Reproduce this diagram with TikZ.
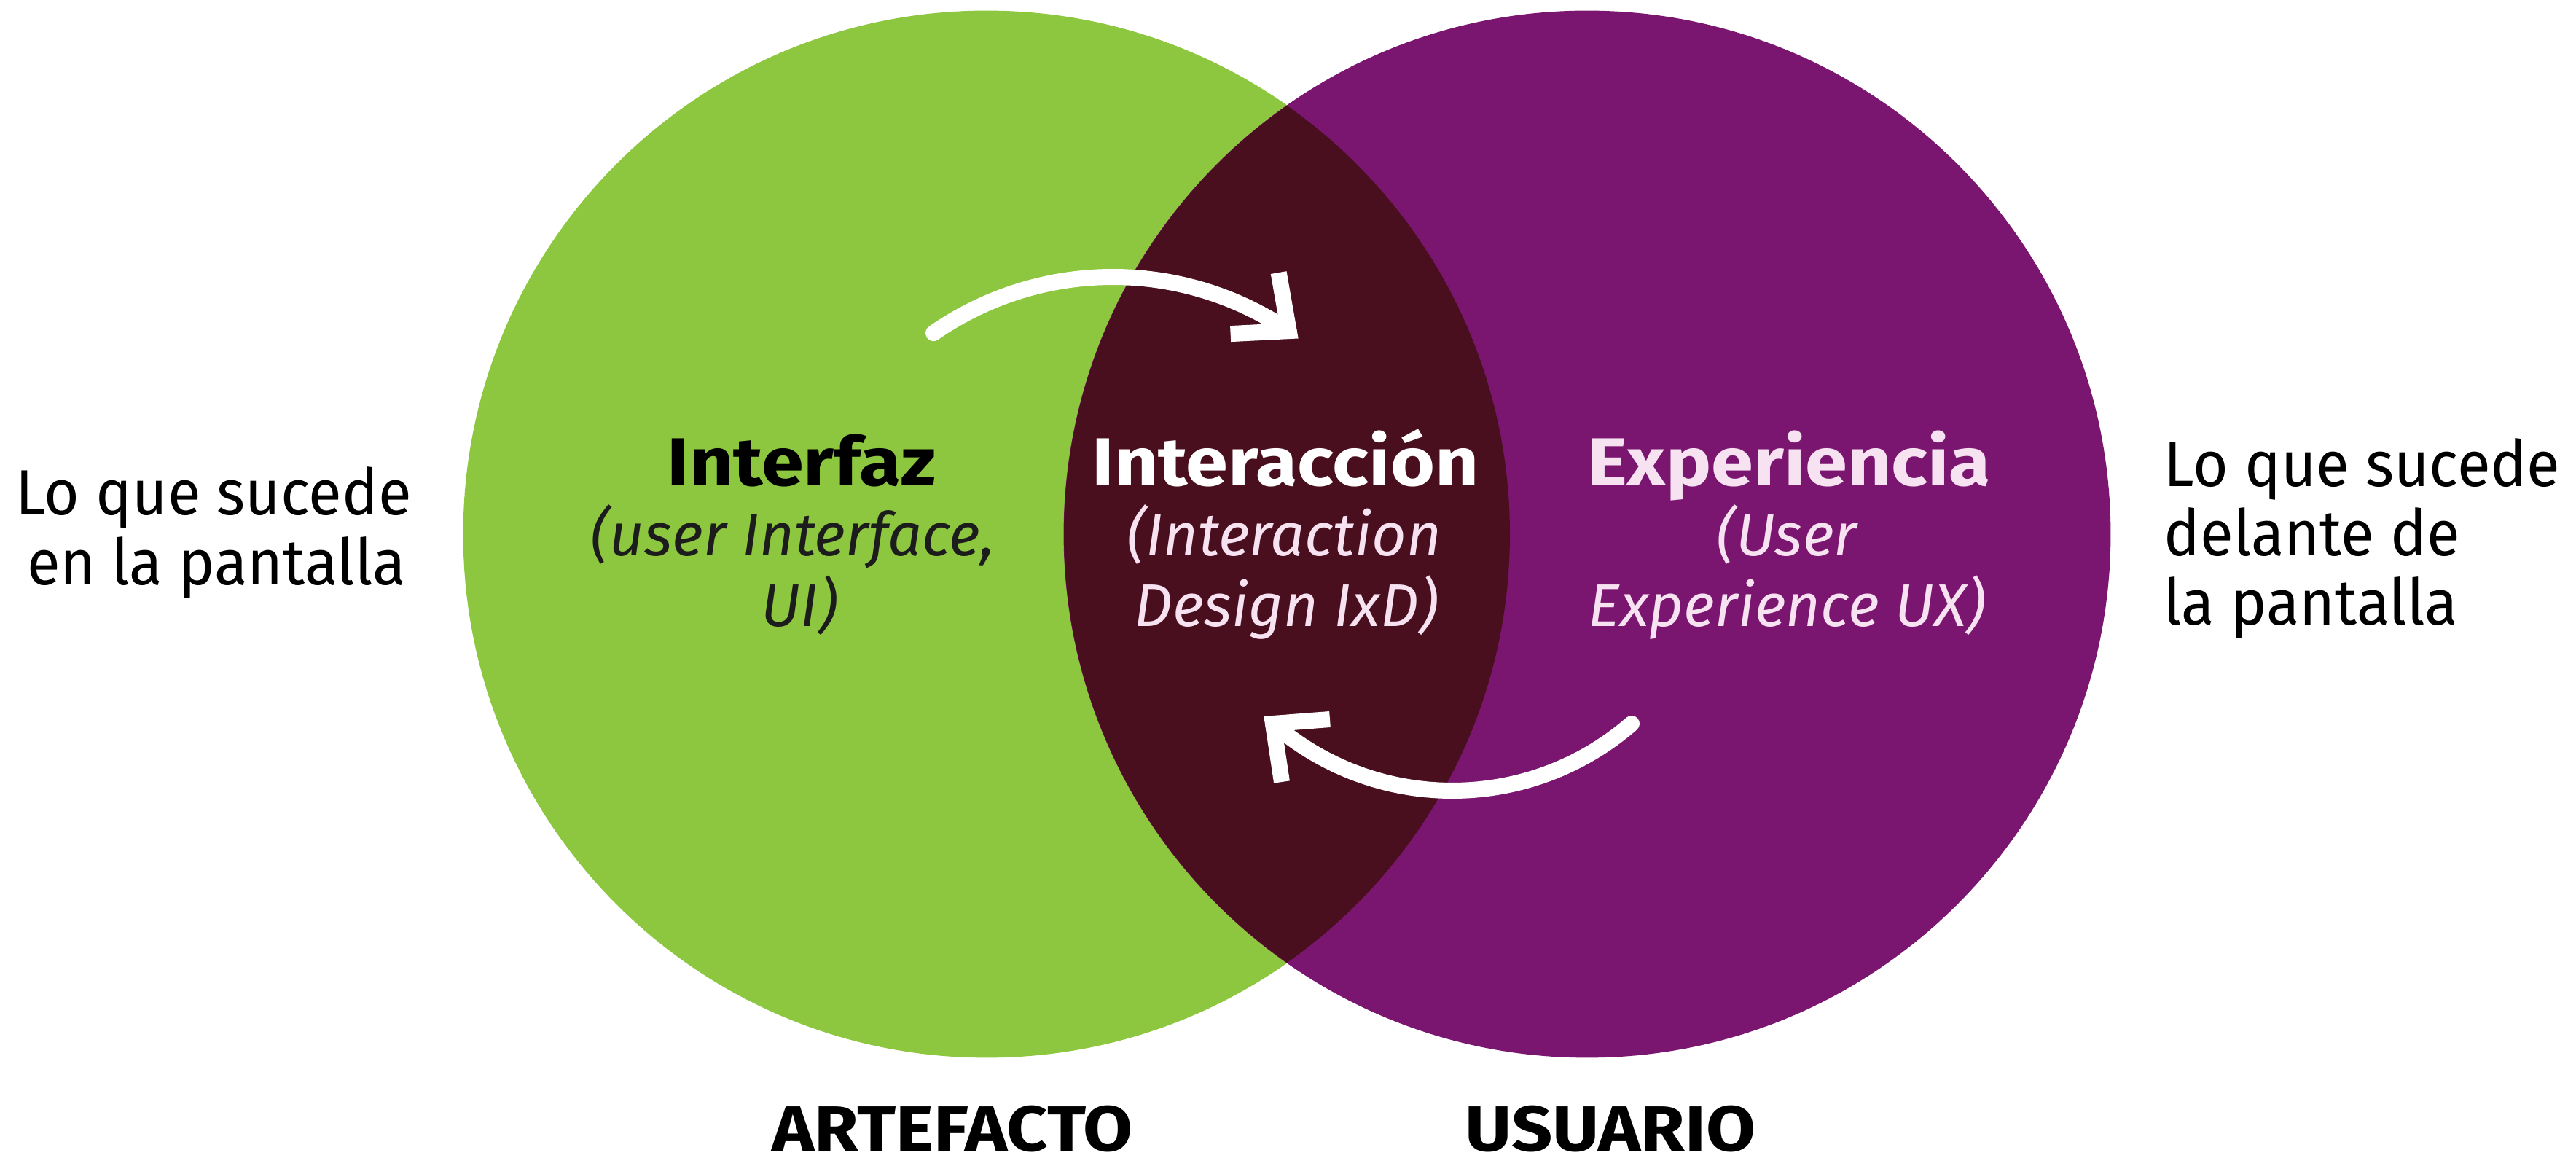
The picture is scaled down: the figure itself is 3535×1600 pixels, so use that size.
\documentclass[tikz,border=0pt]{standalone}
\usepackage{fontspec}
\setmainfont{Fira Sans}
\newfontfamily\wideb{Fira Sans}[FakeStretch=1.12]
\newfontfamily\narrowr{Fira Sans}[FakeStretch=0.95]
\definecolor{uigreen}{HTML}{8DC63F}
\definecolor{uxpurple}{HTML}{7B1670}
\definecolor{ixdark}{HTML}{4A0F1E}
\definecolor{palepink}{HTML}{F6E2F0}
\definecolor{subdark}{HTML}{1C1C1C}
\begin{document}
\begin{tikzpicture}[x=0.01cm,y=0.01cm,
  venn/.style={circle, minimum size=14.36cm, inner sep=0pt},
  head/.style={font=\wideb\bfseries\fontsize{26.5}{31}\selectfont, anchor=base, inner sep=0pt},
  sub/.style={font=\itshape\fontsize{23.5}{28}\selectfont, anchor=base, inner sep=0pt},
  side/.style={font=\narrowr\fontsize{25}{30}\selectfont, anchor=base, inner sep=0pt},
  foot/.style={font=\wideb\bfseries\fontsize{25}{30}\selectfont, anchor=base, inner sep=0pt, text depth=0pt},
  flow/.style={white, line width=0.22cm, line cap=round},
  chevron/.style={white, line width=0.22cm, line cap=butt, line join=miter}
]
\useasboundingbox (0,0) rectangle (3535,1600);
% circles
\node[venn, fill=uigreen] (artefacto) at (1354,867) {};
\node[venn, fill=uxpurple] (usuario) at (2178,867) {};
\begin{scope}
  \clip (1354,867) circle (718);
  \fill[ixdark] (2178,867) circle (718);
\end{scope}
% arrows
\coordinate (c1) at (1527,789);
\coordinate (c2) at (1993,890);
\coordinate (s1) at ([shift={(124.8:431)}]c1);
\coordinate (t1) at ([shift={(55.9:431)}]c1);
\coordinate (s2) at ([shift={(-49:375)}]c2);
\coordinate (t2) at ([shift={(-131:375)}]c2);
\draw[flow] (s1) arc[start angle=124.8, end angle=55.9, radius=431];
\draw[chevron] ([shift={(-14,80)}]t1) -- (t1) -- ([shift={(-80,-4)}]t1);
\draw[flow] (s2) arc[start angle=-49, end angle=-131, radius=375];
\draw[chevron] ([shift={(78,6)}]t2) -- (t2) -- ([shift={(12,-80)}]t2);
% labels in circles
\node[head, black] (interfaz) at (1100,933) {Interfaz};
\node[sub, subdark] (ui1) at (1088,837) {(user Interface,};
\node[sub, subdark] (ui2) at (1097,740) {UI)};
\node[head, white] (interaccion) at (1764,933) {Interacción};
\node[sub, palepink] (ixd1) at (1762,837) {(Interaction};
\node[sub, palepink] (ixd2) at (1765,740) {Design IxD)};
\node[head, palepink] (experiencia) at (2455,933) {Experiencia};
\node[sub, palepink] (ux1) at (2452,837) {(User};
\node[sub, palepink] (ux2) at (2452,740) {Experience UX)};
% side texts
\node[side] (l1) at (293,893) {Lo que sucede};
\node[side] (l2) at (297,797) {en la pantalla};
\node[side, anchor=base west] (r1) at (2969,932) {Lo que sucede};
\node[side, anchor=base west] (r2) at (2969,837) {delante de};
\node[side, anchor=base west] (r3) at (2969,742) {la pantalla};
% bottom
\node[foot] (art) at (1307,20) {ARTEFACTO};
\node[foot] (usu) at (2210,20) {USUARIO};
\end{tikzpicture}
\end{document}
